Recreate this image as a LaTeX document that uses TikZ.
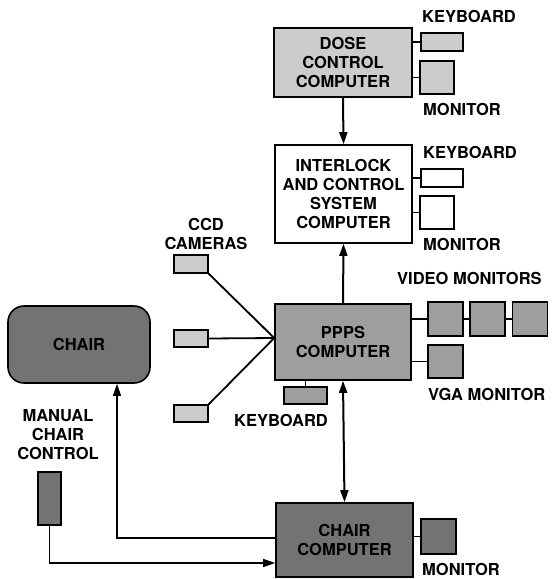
\documentclass[tikz,border=0pt]{standalone}
\usepackage{fontspec}
\setmainfont{TeX Gyre Heros}
\usetikzlibrary{arrows.meta,positioning}
\definecolor{Light}{gray}{0.80}
\definecolor{Mid}{gray}{0.62}
\definecolor{Dark}{gray}{0.45}

\begin{document}
\begin{tikzpicture}[x=1pt,y=-1pt,
    box/.style={draw,line width=1.6pt,align=center,inner sep=0pt,
      font=\fontsize{16.5}{19}\selectfont\bfseries},
    unit/.style={draw,line width=1.3pt,inner sep=0pt},
    lbl/.style={align=center,inner sep=0pt,font=\fontsize{16.5}{19}\selectfont\bfseries},
    link/.style={line width=1.8pt},
    arr/.style={-{Triangle[length=12pt,width=8pt]},line width=2pt},
    thinarr/.style={-{Triangle[length=12pt,width=8pt]},line width=1.3pt}
  ]
    \useasboundingbox (0,0) rectangle (552,579);
    % computers
    \node[box,fill=Light,minimum width=138,minimum height=69] (dose) at (343,62.5) {DOSE\\CONTROL\\COMPUTER};
    \node[box,fill=white,minimum width=137,minimum height=98] (inter) at (343.5,194) {INTERLOCK\\AND CONTROL\\SYSTEM\\COMPUTER};
    \node[box,fill=Mid,minimum width=136,minimum height=76] (ppps) at (343,342) {PPPS\\COMPUTER};
    \node[box,fill=Dark,minimum width=137,minimum height=74] (ccomp) at (344.5,540) {CHAIR\\COMPUTER};
    \node[box,fill=Dark,rounded corners=16pt,minimum width=142,minimum height=77] (chair) at (79,344.5) {CHAIR};
    % peripherals
    \node[unit,fill=Light,minimum width=42,minimum height=18] (kb1) at (442,42) {};
    \node[unit,fill=Light,minimum width=34,minimum height=33] (mon1) at (437,77.5) {};
    \node[unit,fill=white,minimum width=42,minimum height=18] (kb2) at (442,178) {};
    \node[unit,fill=white,minimum width=34,minimum height=33] (mon2) at (437,212.5) {};
    \node[unit,fill=Mid,minimum width=35,minimum height=34] (vm1) at (445.5,319) {};
    \node[unit,fill=Mid,minimum width=35,minimum height=34] (vm2) at (487.5,319) {};
    \node[unit,fill=Mid,minimum width=35,minimum height=34] (vm3) at (530,319) {};
    \node[unit,fill=Mid,minimum width=35,minimum height=33] (vga) at (445.5,361.5) {};
    \node[unit,fill=Mid,minimum width=43,minimum height=17] (kb3) at (305.5,395.5) {};
    \node[unit,fill=Light,minimum width=34,minimum height=18] (cam1) at (191,264) {};
    \node[unit,fill=Light,minimum width=34,minimum height=17] (cam2) at (191,338.5) {};
    \node[unit,fill=Light,minimum width=34,minimum height=17] (cam3) at (191,413.5) {};
    \node[unit,fill=Dark,minimum width=23,minimum height=53] (manual) at (49.5,498.5) {};
    \node[unit,fill=Dark,minimum width=35,minimum height=35] (mon3) at (438.5,536.5) {};
    % labels
    \node[lbl,anchor=west] (kb1lbl) at (422,16) {KEYBOARD};
    \node[lbl,anchor=west] (mon1lbl) at (423,109) {MONITOR};
    \node[lbl,anchor=west] (kb2lbl) at (423,152) {KEYBOARD};
    \node[lbl,anchor=west] (mon2lbl) at (423,244) {MONITOR};
    \node[lbl,anchor=west] (vmlbl) at (397,278) {VIDEO MONITORS};
    \node[lbl,anchor=west] (vgalbl) at (428,394) {VGA MONITOR};
    \node[lbl] (kb3lbl) at (281,420) {KEYBOARD};
    \node[lbl] (camlbl) at (206,234) {CCD\\CAMERAS};
    \node[lbl] (manlbl) at (58,435) {MANUAL\\CHAIR\\CONTROL};
    \node[lbl,anchor=west] (mon3lbl) at (422,569) {MONITOR};
    % links
    \draw[link] (kb1.west) -- (kb1.west -| dose.east);
    \draw[link] (mon1.west) -- (mon1.west -| dose.east);
    \draw[link] (kb2.west) -- (kb2.west -| inter.east);
    \draw[link] (mon2.west) -- (mon2.west -| inter.east);
    \draw[link] (vm1.west) -- (vm1.west -| ppps.east);
    \draw[link] (vm1) -- (vm2);
    \draw[link] (vm2) -- (vm3);
    \draw[link] (vga.west) -- (vga.west -| ppps.east);
    \draw[link] (kb3.north) -- (kb3.north |- ppps.south);
    \draw[link] (mon3.west) -- (mon3.west -| ccomp.east);
    \draw[link] (cam1.south east) -- ([yshift=4]ppps.west);
    \draw[link] (cam2.east) -- ([yshift=4]ppps.west);
    \draw[link] (cam3.north east) -- ([yshift=4]ppps.west);
    % arrows
    \draw[arr] (dose.south) -- (inter.north);
    \draw[arr] (ppps.north) -- (inter.south);
    \draw[arr,{Triangle[length=12pt,width=8pt]}-{Triangle[length=12pt,width=8pt]}] (ppps.south) -- (ccomp.north);
    \draw[thinarr] ([yshift=2]ccomp.west) -| ([xshift=38]chair.south);
    \draw[thinarr] (manual.south) |- ([yshift=-23]ccomp.west);
  \end{tikzpicture}
\end{document}
